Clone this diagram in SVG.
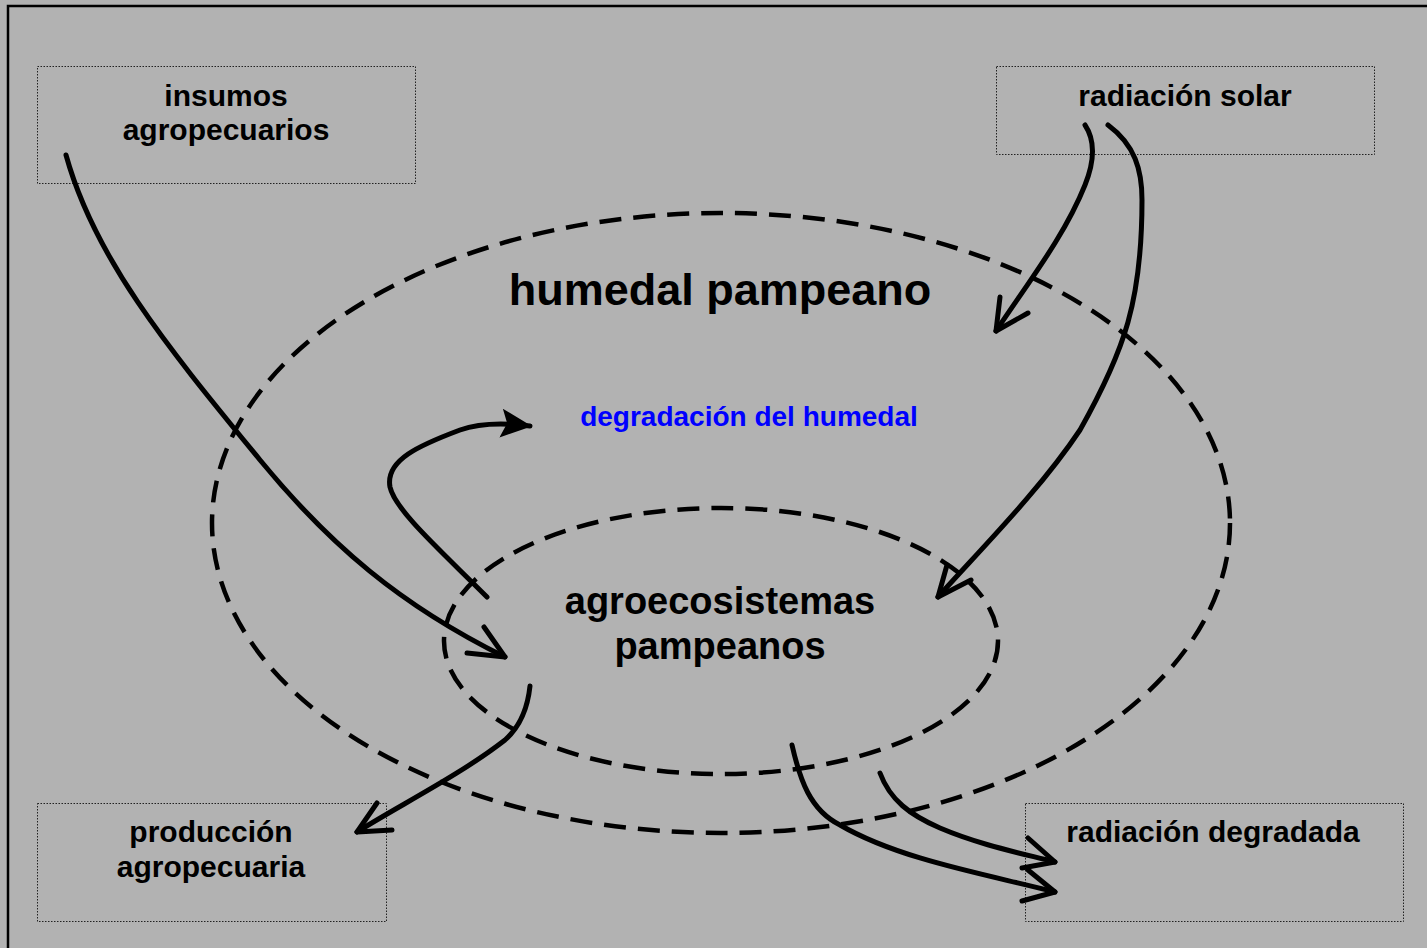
<svg xmlns="http://www.w3.org/2000/svg" width="1427" height="948" viewBox="0 0 1427 948">
<style>
.box{fill:none;stroke:#222;stroke-width:1;stroke-dasharray:1.5 1.5}
.t{font-family:"Liberation Sans",Arial,sans-serif;font-weight:bold;fill:#000;text-anchor:middle}
.ell{fill:none;stroke:#000;stroke-width:4.5;stroke-dasharray:22 12}
.arr{fill:none;stroke:#000;stroke-width:5;stroke-linecap:round;stroke-linejoin:round}
</style>
<defs>
<marker id="fill" viewBox="0 0 32 32" refX="29" refY="16" markerWidth="32" markerHeight="32" markerUnits="userSpaceOnUse" orient="auto">
<path d="M0,2 L31,16 L0,31 L6,16 Z" fill="#000"/>
</marker>
</defs>
<rect x="0" y="0" width="1427" height="948" fill="#b2b2b2"/>
<rect x="8" y="6" width="1440" height="960" fill="none" stroke="#000" stroke-width="2.5"/>

<g id="humedal">
<ellipse class="ell" cx="721" cy="523" rx="509" ry="310"/>
<text class="t" x="720" y="305" font-size="45">humedal pampeano</text>
</g>
<g id="agroecosistemas">
<ellipse class="ell" cx="721" cy="641" rx="277" ry="133" stroke-dasharray="18 11"/>
<text class="t" x="720" y="614" font-size="38">agroecosistemas</text>
<text class="t" x="720" y="659" font-size="38">pampeanos</text>
</g>
<g id="insumos">
<rect class="box" x="37.5" y="66.5" width="378" height="117"/>
<text class="t" x="226" y="106" font-size="30">insumos</text>
<text class="t" x="226" y="140" font-size="30">agropecuarios</text>
</g>
<g id="radiacion-solar">
<rect class="box" x="996.5" y="66.5" width="378" height="88"/>
<text class="t" x="1185" y="106" font-size="30">radiación solar</text>
</g>
<g id="produccion">
<rect class="box" x="37.5" y="803.5" width="349" height="118"/>
<text class="t" x="211" y="842" font-size="30">producción</text>
<text class="t" x="211" y="877" font-size="30">agropecuaria</text>
</g>
<g id="radiacion-degradada">
<rect class="box" x="1025.5" y="803.5" width="378" height="118"/>
<text class="t" x="1213" y="842" font-size="30">radiación degradada</text>
</g>
<g id="degradacion">
<text class="t" x="749" y="426" font-size="28" style="fill:#0000ff">degradación del humedal</text>
</g>

<g id="connectors">
<path class="arr" d="M66,155 C 95,260 170,350 260,460 C 330,545 400,605 505,657"/>
<path class="arr" d="M467,653 L505,657 L484,627"/>
<path class="arr" d="M487,597 C 440,550 395,510 390,487 C 385,460 420,445 460,430 C 480,423 505,423 530,426" marker-end="url(#fill)"/>
<path class="arr" d="M1085,125 C 1095,140 1095,160 1085,185 C 1065,235 1030,280 996,331"/>
<path class="arr" d="M1000,297 L996,331 L1028,313"/>
<path class="arr" d="M1108,125 C 1135,145 1142,170 1142,200 C 1142,300 1125,350 1080,430 C 1040,490 980,550 938,597"/>
<path class="arr" d="M947,565 L938,597 L971,580"/>
<path class="arr" d="M530,686 C 528,705 522,725 505,740 C 460,775 400,805 357,832"/>
<path class="arr" d="M377,803 L357,832 L392,830"/>
<path class="arr" d="M880,773 C 890,800 910,815 940,828 C 980,845 1020,853 1055,862"/>
<path class="arr" d="M1028,838 L1055,862 L1022,868"/>
<path class="arr" d="M792,745 C 800,780 810,810 840,825 C 900,860 990,875 1055,892"/>
<path class="arr" d="M1028,870 L1055,892 L1022,901"/>
</g>
</svg>
